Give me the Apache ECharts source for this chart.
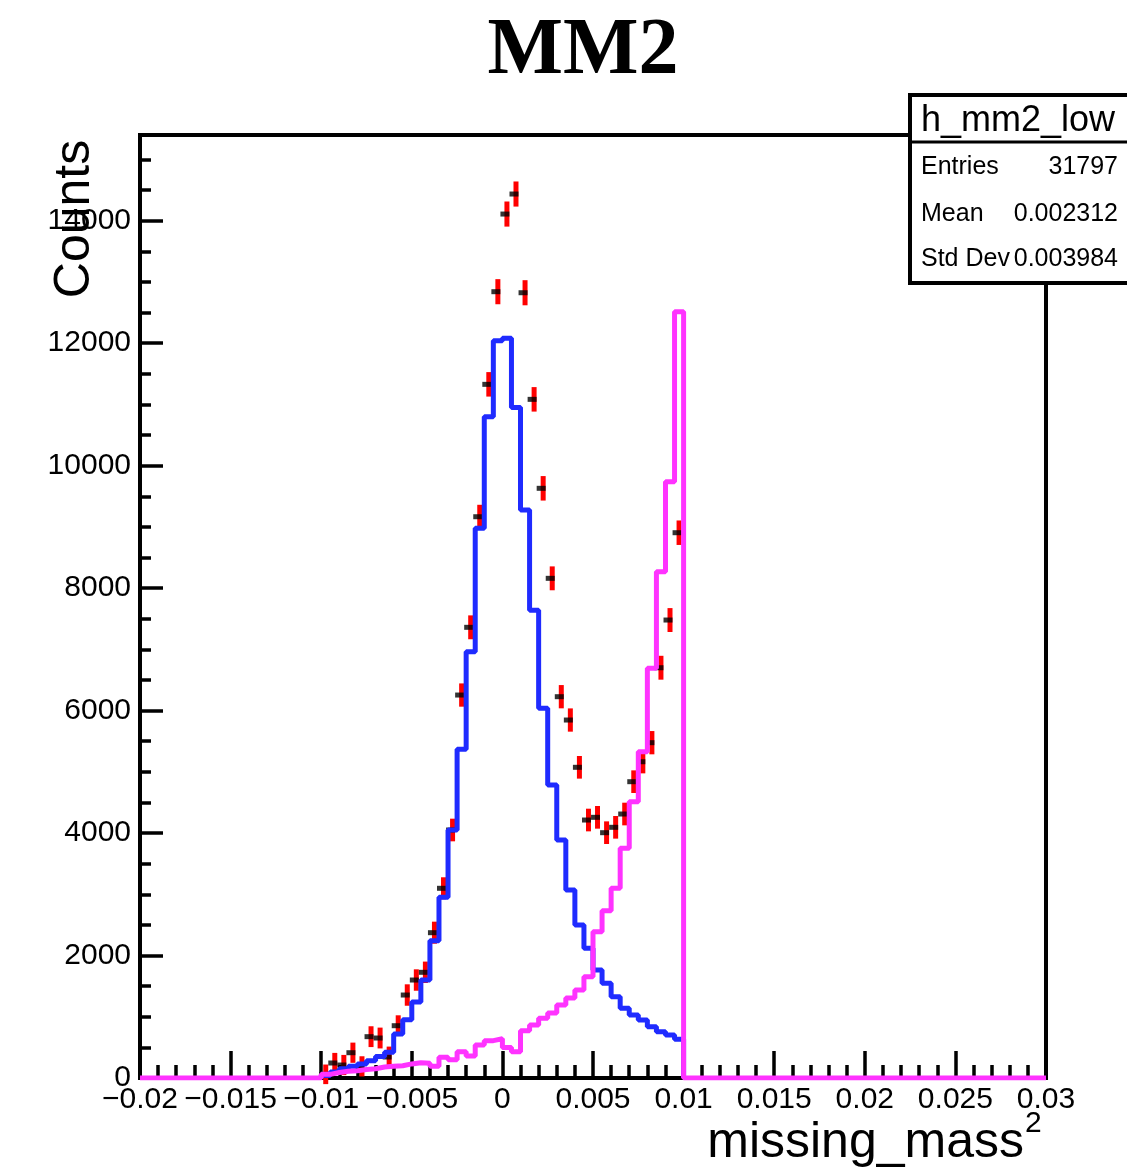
<!DOCTYPE html>
<html>
<head>
<meta charset="utf-8">
<script src="https://cdn.jsdelivr.net/npm/echarts@6/dist/echarts.min.js"></script>
<style>
html,body{margin:0;padding:0;background:#fff;}
#chart{width:1127px;height:1172px;}
</style>
</head>
<body>
<div id="chart"></div>
<script>
// Histogram binning: 40 bins from -0.01 to 0.01
const binStart = -0.01;
const binWidth = 0.0005;
const axisMin = -0.02, axisMax = 0.03;

// Data points (black markers with red error bars)
const dataCounts = [60, 245, 212, 413, 190, 675, 653, 343, 854, 1355,
  1600, 1726, 2373, 3098, 4050, 6254, 7360, 9166, 11328, 12841,
  14109, 14436, 12824, 11083, 9630, 8160, 6227, 5846, 5074, 4213,
  4257, 4006, 4094, 4311, 4839, 5165, 5476, 6700, 7479, 8905];
const dataErrors = [160, 165, 165, 165, 165, 170, 170, 170, 170, 175,
  175, 175, 180, 180, 185, 190, 195, 195, 200, 205,
  205, 205, 205, 200, 200, 195, 190, 190, 185, 185,
  185, 185, 185, 185, 185, 190, 190, 195, 195, 200];
// Blue histogram
const blueCounts = [40, 100, 150, 190, 230, 280, 350, 420, 720, 950,
  1240, 1600, 2240, 2950, 4050, 5368, 6962, 8977, 10800, 12040,
  12080, 10950, 9275, 7640, 6037, 4785, 3887, 3070, 2498, 2117,
  1763, 1546, 1328, 1138, 1029, 947, 838, 756, 702, 632];
// Magenta histogram
const magentaCounts = [60, 90, 110, 120, 140, 150, 180, 190, 200, 230,
  250, 240, 190, 340, 300, 430, 360, 540, 610, 640,
  500, 430, 770, 866, 975, 1061, 1192, 1306, 1437, 1654,
  2390, 2730, 3100, 3751, 4512, 5329, 6690, 8268, 9738, 12514];

// Stats box text
const statName = "h_mm2_low";
const statLabels = ["Entries", "Mean", "Std Dev"];
const statValues = ["31797", "0.002312", "0.003984"];

const yTicks = {min: 0, max: 15400, interval: 2000};

function edge(i){ return +(binStart + binWidth * i).toFixed(6); }
function center(i){ return +(binStart + binWidth * (i + 0.5)).toFixed(6); }

function histPoints(counts, padToAxis){
  const pts = [];
  if (padToAxis) pts.push([axisMin, 0]);
  pts.push([edge(0), 0]);
  for (let i = 0; i < counts.length; i++) pts.push([edge(i), counts[i]]);
  pts.push([edge(counts.length), counts[counts.length - 1]]);
  pts.push([edge(counts.length), 0]);
  if (padToAxis) pts.push([axisMax, 0]);
  return pts;
}

const pointData = dataCounts.map((v, i) => [center(i), v, dataErrors[i]]);

const FONT = "'Liberation Sans', Arial, Helvetica, sans-serif";

function fmtX(v){
  if (Math.abs(v) < 1e-12) return "0";
  const s = (+Math.abs(v).toFixed(4)).toString();
  return (v < 0 ? "\u2212" : "") + s;
}
function fmtY(v){ return String(Math.round(v)); }

const chart = echarts.init(document.getElementById('chart'), null, {renderer: 'canvas'});

const option = {
  backgroundColor: '#ffffff',
  animation: false,
  grid: {
    left: 140, right: 81, top: 135, bottom: 94,
    show: true, borderColor: '#000', borderWidth: 4, backgroundColor: 'transparent'
  },
  xAxis: {
    type: 'value', min: axisMin, max: axisMax, interval: 0.005,
    axisLine: {show: true, onZero: false, lineStyle: {color: '#000', width: 4}},
    axisTick: {show: true, inside: true, length: 27, lineStyle: {color: '#000', width: 3.5}},
    minorTick: {show: true, splitNumber: 5, length: 13, lineStyle: {color: '#000', width: 3.5}},
    splitLine: {show: false},
    axisLabel: {
      color: '#000', fontFamily: FONT, fontSize: 30, margin: 7,
      formatter: fmtX, showMinLabel: true, showMaxLabel: true
    }
  },
  yAxis: {
    type: 'value', min: yTicks.min, max: yTicks.max, interval: yTicks.interval,
    axisLine: {show: true, onZero: false, lineStyle: {color: '#000', width: 4}},
    axisTick: {show: true, inside: true, length: 23, lineStyle: {color: '#000', width: 3.5}},
    minorTick: {show: true, splitNumber: 4, length: 11, lineStyle: {color: '#000', width: 3.5}},
    splitLine: {show: false},
    axisLabel: {
      color: '#000', fontFamily: FONT, fontSize: 30, margin: 9,
      formatter: fmtY, showMaxLabel: false
    }
  },
  series: [
    {
      type: 'custom',
      name: 'errors',
      z: 3,
      data: pointData,
      renderItem: function(params, api){
        const x = api.value(0), y = api.value(1), e = api.value(2);
        const top = api.coord([x, y + e]);
        const bot = api.coord([x, y - e]);
        return {
          type: 'rect',
          shape: {x: top[0] - 2.5, y: top[1], width: 5, height: bot[1] - top[1]},
          style: {fill: '#ff0000'}
        };
      }
    },
    {
      type: 'scatter',
      name: 'points',
      z: 4,
      data: pointData.map(p => [p[0], p[1]]),
      symbol: 'rect',
      symbolSize: [9, 5],
      symbolOffset: [-2, 0],
      itemStyle: {color: '#000'}
    },
    {
      type: 'line',
      name: 'blue',
      z: 5,
      step: 'end',
      data: histPoints(blueCounts, false),
      symbol: 'none',
      lineStyle: {color: '#1f2bff', width: 5},
      clip: true
    },
    {
      type: 'line',
      name: 'magenta',
      z: 6,
      step: 'end',
      data: histPoints(magentaCounts, true),
      symbol: 'none',
      lineStyle: {color: '#ff33ff', width: 5},
      clip: true
    }
  ],
  graphic: [
    {
      type: 'text', x: 583, y: 52, z: 10,
      style: {text: 'MM2', font: "bold 80px 'Liberation Serif', 'Times New Roman', serif",
        fill: '#000', textAlign: 'center', textVerticalAlign: 'middle'}
    },
    {
      type: 'text', x: 75, y: 219, rotation: Math.PI / 2, z: 10,
      style: {text: 'Counts', font: "50px " + FONT, fill: '#000',
        textAlign: 'center', textVerticalAlign: 'middle'}
    },
    {
      type: 'text', x: 1024, y: 1143, z: 10,
      style: {text: 'missing_mass', font: "50px " + FONT, fill: '#000',
        textAlign: 'right', textVerticalAlign: 'middle'}
    },
    {
      type: 'text', x: 1025, y: 1124, z: 10,
      style: {text: '2', font: "30px " + FONT, fill: '#000',
        textAlign: 'left', textVerticalAlign: 'middle'}
    },
    {
      type: 'rect', z: 20,
      shape: {x: 910, y: 95, width: 240, height: 188},
      style: {fill: '#fff', stroke: '#000', lineWidth: 4}
    },
    {
      type: 'line', z: 21,
      shape: {x1: 910, y1: 142, x2: 1127, y2: 142},
      style: {stroke: '#000', lineWidth: 3}
    },
    {
      type: 'text', x: 921, y: 121, z: 22,
      style: {text: statName, font: "36px " + FONT, fill: '#000',
        textAlign: 'left', textVerticalAlign: 'middle'}
    },
    {
      type: 'text', x: 921, y: 167, z: 22,
      style: {text: statLabels[0], font: "25px " + FONT, fill: '#000', textAlign: 'left', textVerticalAlign: 'middle'}
    },
    {
      type: 'text', x: 1118, y: 167, z: 22,
      style: {text: statValues[0], font: "25px " + FONT, fill: '#000', textAlign: 'right', textVerticalAlign: 'middle'}
    },
    {
      type: 'text', x: 921, y: 214, z: 22,
      style: {text: statLabels[1], font: "25px " + FONT, fill: '#000', textAlign: 'left', textVerticalAlign: 'middle'}
    },
    {
      type: 'text', x: 1118, y: 214, z: 22,
      style: {text: statValues[1], font: "25px " + FONT, fill: '#000', textAlign: 'right', textVerticalAlign: 'middle'}
    },
    {
      type: 'text', x: 921, y: 259, z: 22,
      style: {text: statLabels[2], font: "25px " + FONT, fill: '#000', textAlign: 'left', textVerticalAlign: 'middle'}
    },
    {
      type: 'text', x: 1118, y: 259, z: 22,
      style: {text: statValues[2], font: "25px " + FONT, fill: '#000', textAlign: 'right', textVerticalAlign: 'middle'}
    }
  ]
};

chart.setOption(option);
</script>
</body>
</html>
